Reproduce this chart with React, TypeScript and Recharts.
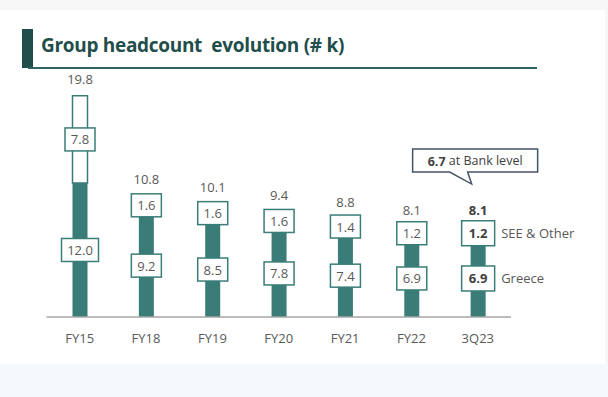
import { BarChart, Bar, XAxis, YAxis, Cell, LabelList } from "recharts";

const categories = ["FY15", "FY18", "FY19", "FY20", "FY21", "FY22", "3Q23"];
const greece = [12.0, 9.2, 8.5, 7.8, 7.4, 6.9, 6.9];
const seeOther = [7.8, 1.6, 1.6, 1.6, 1.4, 1.2, 1.2];
const totals = [19.8, 10.8, 10.1, 9.4, 8.8, 8.1, 8.1];

const TEAL = "#3a7d78";
const GREY = "#595959";
const FONT = "'Open Sans', sans-serif";
const LAST = categories.length - 1;

const data = categories.map((name, i) => ({
  name,
  greece: greece[i],
  see: seeOther[i],
  total: totals[i],
}));

const boxLabel = (legend: string) => (props: any) => {
  const { x, y, width, height, value, index } = props;
  const cx = Number(x) + Number(width) / 2;
  const cy = Number(y) + Number(height) / 2;
  const txt = Number(value).toFixed(1);
  const bold = index === LAST;
  const w = txt.length > 3 ? 37 : bold ? 33 : 30;
  const h = bold ? 25 : 23;
  return (
    <g>
      <rect x={cx - w / 2} y={cy - h / 2} width={w} height={h} fill="#fff" stroke={TEAL} strokeWidth={1.5} />
      <text x={cx} y={cy} textAnchor="middle" dominantBaseline="central" fontSize={13}
        fontWeight={bold ? 700 : 400} fill={bold ? "#404040" : GREY} fontFamily={FONT}>
        {txt}
      </text>
      {bold && (
        <text x={cx + 23} y={cy} dominantBaseline="central" fontSize={13} fill={GREY} fontFamily={FONT}>
          {legend}
        </text>
      )}
    </g>
  );
};

const totalLabel = (props: any) => {
  const { x, y, width, index } = props;
  const cx = Number(x) + Number(width) / 2;
  const top = Number(y);
  const bold = index === LAST;
  return (
    <g>
      <text x={cx} y={top - 17} textAnchor="middle" dominantBaseline="central" fontSize={13}
        fontWeight={bold ? 700 : 400} fill={bold ? "#404040" : GREY} fontFamily={FONT}>
        {totals[index].toFixed(1)}
      </text>
      {bold && (
        <g>
          <path
            d={`M${cx - 65.5},${top - 77.5} H${cx + 59.5} V${top - 54.5} H${cx - 10.5} L${cx - 6.5},${top - 42.5} L${cx - 28.5},${top - 54.5} H${cx - 65.5} Z`}
            fill="#fff" stroke="#44546a" strokeWidth={1.5} />
          <text x={cx - 3} y={top - 66} textAnchor="middle" dominantBaseline="central" fontSize={12.5}
            fill="#404040" fontFamily={FONT}>
            <tspan fontWeight={700}>6.7</tspan> at Bank level
          </text>
        </g>
      )}
    </g>
  );
};

const AxisTick = (props: any) => {
  const { x, y, payload } = props;
  return (
    <text x={x} y={Number(y) + 13} textAnchor="middle" dominantBaseline="central" fontSize={13}
      fill={GREY} fontFamily={FONT}>
      {payload.value}
    </text>
  );
};

export default function App() {
  return (
    <div style={{ position: "absolute", left: 0, top: 0, width: 608, height: 397, background: "#fff", overflow: "hidden", fontFamily: FONT }}>
      <div style={{ position: "absolute", left: 0, top: 0, width: 608, height: 10, background: "#f7f7f7" }} />
      <div style={{ position: "absolute", left: 605, top: 0, width: 3, height: 397, background: "#f7f7f7" }} />
      <div style={{ position: "absolute", left: 0, top: 364, width: 608, height: 33, background: "#f5f9fc" }} />
      <div style={{ position: "absolute", left: 22, top: 29, width: 11, height: 39, background: "#1f4e4b" }} />
      <div style={{ position: "absolute", left: 28, top: 66.5, width: 509, height: 2, background: "#2e6461" }} />
      <div style={{ position: "absolute", left: 41, top: 31, fontSize: 19, fontWeight: 700, letterSpacing: -0.3, color: "#1f4e4b", whiteSpace: "pre", lineHeight: "28px" }}>
        {"Group headcount  evolution (# k)"}
      </div>
      <div style={{ position: "absolute", left: 0, top: 0 }}>
        <BarChart width={608} height={397} data={data} margin={{ top: 71.3, right: 97, bottom: 50, left: 46.5 }} barSize={15}>
          <XAxis dataKey="name" height={30} axisLine={{ stroke: "#a6a6a6", strokeWidth: 1.5 }} tickLine={false} tick={<AxisTick />} interval={0} />
          <YAxis hide domain={[0, 22]} />
          <Bar dataKey="greece" stackId="a" fill={TEAL} isAnimationActive={false}>
            <LabelList dataKey="greece" content={boxLabel("Greece")} />
          </Bar>
          <Bar dataKey="see" stackId="a" fill={TEAL} isAnimationActive={false}>
            {data.map((d, i) => (
              <Cell key={d.name} fill={i === 0 ? "#fff" : TEAL} stroke={i === 0 ? TEAL : "none"} strokeWidth={1.5} />
            ))}
            <LabelList dataKey="see" content={boxLabel("SEE & Other")} />
            <LabelList dataKey="total" content={totalLabel} />
          </Bar>
        </BarChart>
      </div>
    </div>
  );
}
